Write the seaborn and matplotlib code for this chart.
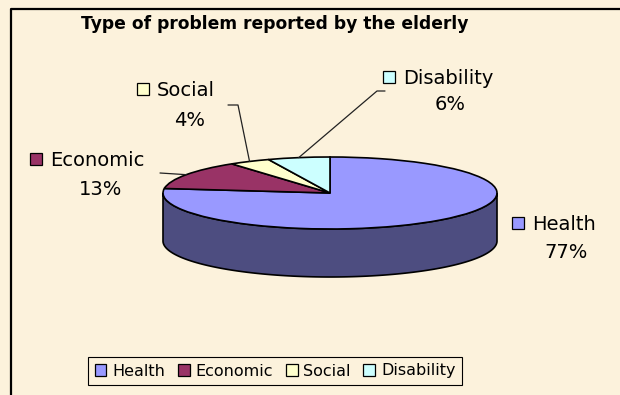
import numpy as np
import matplotlib
matplotlib.use('Agg')
import matplotlib.pyplot as plt
import seaborn as sns
from matplotlib.patches import Polygon, Rectangle, Patch
from matplotlib.lines import Line2D
import matplotlib.colors as mcolors

# ---- data ----
categories = ['Health', 'Economic', 'Social', 'Disability']
values = [77, 13, 4, 6]
colors = ['#9999FF', '#993366', '#FFFFCC', '#CCFFFF']
title = 'Type of problem reported by the elderly'

sns.set_theme(style='white')
plt.rcParams['font.family'] = ['DejaVu Sans']
plt.rcParams['text.color'] = 'black'

W, H = 620, 395
BG = '#FCF2DC'
fig = plt.figure(figsize=(6.2, 3.95), dpi=100, facecolor=BG)


def fx(px):
    return px / W


def fy(py):
    return 1 - py / H


# ---- pie geometry (pixels) ----
cx, cy, rx, ry, depth = 330, 193, 167, 36, 48
d = depth / ry
xl = (-1.2, 1.2)
yl = (-1 - d - 0.5, 1.2)
ax = fig.add_axes([fx(cx + xl[0] * rx), fy(cy - yl[0] * ry),
                   (xl[1] - xl[0]) * rx / W, (yl[1] - yl[0]) * ry / H])
ax.patch.set_alpha(0)

wedges, _ = ax.pie(values, colors=colors, startangle=90, counterclock=False,
                   radius=1, wedgeprops=dict(edgecolor='black', linewidth=1.2))
for w in wedges:
    w.set_zorder(3)
ax.set_aspect('auto')
ax.set_xlim(*xl)
ax.set_ylim(*yl)
ax.axis('off')

# side walls (front half of each wedge)
for w, c in zip(wedges, colors):
    t1, t2 = w.theta1, w.theta2
    for lo, hi in [(-180, 0), (180, 360)]:
        a, b = max(t1, lo), min(t2, hi)
        if b > a:
            t = np.radians(np.linspace(a, b, 200))
            top = np.column_stack([np.cos(t), np.sin(t)])
            bot = np.column_stack([np.cos(t), np.sin(t) - d])
            dark = tuple(0.5 * np.array(mcolors.to_rgb(c)))
            ax.add_patch(Polygon(np.vstack([top, bot[::-1]]), closed=True,
                                 facecolor=dark, edgecolor='black',
                                 linewidth=1.2, zorder=1))

# ---- data labels ----
label_layout = {
    'Health': dict(mk=(512, 223), pct=(566, 250), leader=None),
    'Economic': dict(mk=(30, 159), pct=(101, 187), leader=[(160, 173)]),
    'Social': dict(mk=(137, 89), pct=(190, 118), leader=[(228, 105), (238, 105)]),
    'Disability': dict(mk=(383, 77), pct=(450, 103), leader=[(385, 91), (377, 91)]),
}
to_fig = fig.transFigure.inverted()
ms = 12
for cat, v, c, w in zip(categories, values, colors, wedges):
    lay = label_layout[cat]
    mx, my = lay['mk']
    fig.patches.append(Rectangle((fx(mx), fy(my + ms / 2)), ms / W, ms / H,
                                 transform=fig.transFigure, facecolor=c,
                                 edgecolor='black', linewidth=0.9))
    fig.text(fx(mx + 20), fy(my), cat, ha='left', va='center_baseline',
             fontsize=14, color='black')
    fig.text(fx(lay['pct'][0]), fy(lay['pct'][1]), f'{v}%', ha='center',
             va='center_baseline', fontsize=14, color='black')
    if lay['leader']:
        m = np.radians((w.theta1 + w.theta2) / 2)
        end = to_fig.transform(ax.transData.transform((np.cos(m), np.sin(m))))
        xs = [fx(p[0]) for p in lay['leader']] + [end[0]]
        ys = [fy(p[1]) for p in lay['leader']] + [end[1]]
        fig.lines.append(Line2D(xs, ys, transform=fig.transFigure,
                                color='#222222', linewidth=0.9))

# ---- title ----
fig.text(fx(275), fy(24), title, ha='center', va='center',
         fontsize=12.3, fontweight='bold', color='black')

# ---- legend ----
handles = [Patch(facecolor=c, edgecolor='black', linewidth=0.9, label=cat)
           for cat, c in zip(categories, colors)]
leg = fig.legend(handles=handles, loc='center', bbox_to_anchor=(fx(275), fy(371)),
                 ncol=4, frameon=True, fancybox=False, edgecolor='black',
                 facecolor=BG, framealpha=1, fontsize=11.5, handlelength=0.75,
                 handleheight=0.75, handletextpad=0.35, columnspacing=0.8,
                 borderpad=0.4, borderaxespad=0, labelcolor='black')
leg.get_frame().set_linewidth(0.8)

# ---- outer frame ----
fig.lines.append(Line2D([fx(10.5), fx(10.5), fx(625)], [fy(400), fy(9), fy(9)],
                        transform=fig.transFigure, color='black', linewidth=1.6))

fig.savefig('out.png', dpi=100, facecolor=BG)
